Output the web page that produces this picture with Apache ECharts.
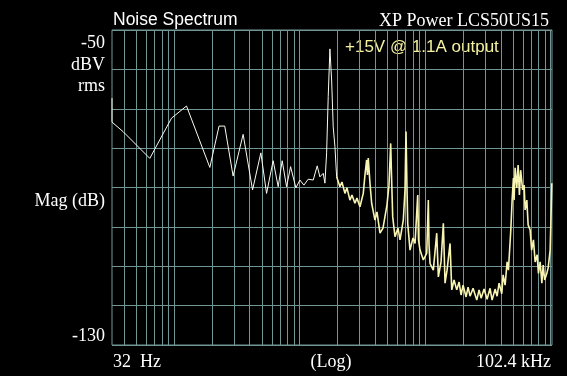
<!DOCTYPE html>
<html>
<head>
<meta charset="utf-8">
<script src="https://cdn.jsdelivr.net/npm/echarts@6/dist/echarts.min.js"></script>
<style>
html,body{margin:0;padding:0;background:#000;}
#c{width:567px;height:376px;}
</style>
</head>
<body>
<div id="c"></div>
<script>
// Frequencies (Hz) and magnitudes (dBV rms)
var freqs = [32, 32, 39.2, 64, 95.3, 125.5, 192.5, 228, 253, 295,
  354.6, 421.6, 491, 545, 615, 674.6, 725.9, 786.8, 846.8, 933.5,
  1005, 1081, 1170, 1283, 1380, 1450, 1541, 1590, 1640, 1689,
  1742, 1798, 1851, 1910, 1971, 2094, 2172, 2295, 2381, 2516,
  2610, 2757, 2861, 3023, 3212, 3314, 3418, 3469, 3521, 3632,
  3747, 3981, 4131, 4365, 4612, 4963, 5149, 5313, 5392, 5511,
  5749, 6075, 6303, 6695, 6908, 7036, 7167, 7260, 7572, 8000,
  8300, 8722, 8852, 9098, 9667, 10290, 10596, 10733, 10932, 11613,
  12361, 12732, 13377, 13955, 14397, 14937, 15782, 16281, 16986, 17849,
  18623, 19318, 20041, 21178, 21968, 22781, 24070, 25766, 26880, 27888,
  29466, 31126, 32891, 34117, 36063, 37408, 38796, 40770, 41750, 43322,
  44948, 46046, 48100, 49270, 50463, 51108, 52058, 53713, 55003, 56335,
  57595, 59745, 61420, 62560, 64537, 66100, 68570, 70480, 72860, 75160,
  77970, 79850, 82380, 85000, 87070, 89510, 93180, 95430, 98980, 102140];
var mags = [-67.3, -73.4, -75.8, -82.6, -72.4, -69.3, -84.9, -74.4, -74.4, -87.1,
  -76.5, -90.6, -81.2, -91.5, -83.2, -89.8, -83.2, -89.8, -84.7, -90.1,
  -88.1, -89.4, -87.9, -88.1, -84.5, -87.3, -86.4, -88.9, -81.2, -66.9,
  -54.8, -62.7, -74.6, -79.6, -87.3, -89.8, -88.6, -91.5, -90.1, -93.2,
  -91.9, -94.0, -92.7, -94.9, -91.5, -86.8, -83.0, -86.8, -82.5, -88.9,
  -94.0, -98.3, -96.2, -101.6, -100.3, -94.4, -89.4, -78.8, -86.8, -97.4,
  -102.5, -100.3, -103.3, -98.3, -90.6, -75.8, -90.6, -99.1, -105.9, -102.8,
  -104.2, -91.9, -103.3, -105.9, -108.4, -106.7, -93.2, -104.6, -109.3, -111.0,
  -101.6, -112.7, -108.9, -99.1, -114.3, -111.0, -104.2, -116.0, -113.5, -116.0,
  -114.0, -117.3, -114.8, -117.8, -115.3, -117.6, -115.6, -118.6, -116.0, -118.1,
  -115.8, -118.4, -115.6, -118.6, -115.8, -117.6, -114.3, -117.0, -112.2, -114.8,
  -108.9, -111.0, -100.8, -93.2, -87.6, -93.2, -85.0, -90.1, -84.3, -91.9,
  -85.6, -90.6, -89.4, -95.7, -93.2, -99.5, -100.8, -105.9, -103.3, -108.9,
  -107.1, -111.8, -108.9, -114.3, -109.7, -113.5, -111.8, -110.4, -105.9, -88.9];

// Index where the trace switches from sparse (low-frequency) to dense (high-frequency) bins
var denseStart = 34;

// Log-decade grid frequencies (vertical lines)
var gridFreqs = [40, 50, 60, 70, 80, 90, 100, 200, 300, 400, 500, 600, 700, 800, 900,
  1000, 2000, 3000, 4000, 5000, 6000, 7000, 8000, 9000,
  10000, 20000, 30000, 40000, 50000, 60000, 70000, 80000, 90000, 100000];

var xMin = 32, xMax = 102400;
var yMin = -130, yMax = -50, yStep = 10;

var title = 'Noise Spectrum';
var device = 'XP Power LCS50US15';
var note = '+15V @ 1.1A output';
var leftLabels = ['-50', 'dBV', 'rms', 'Mag (dB)', '-130'];
var bottomLabels = ['32  Hz', '(Log)', '102.4 kHz'];

var gridColor = '#729696';
var serif = '"Liberation Serif", "Times New Roman", serif';
var sans = '"Liberation Sans", Arial, sans-serif';

var chart = echarts.init(document.getElementById('c'), null, {renderer: 'canvas'});
var data = freqs.map(function (f, i) { return [f, mags[i]]; });

function txt(x, y, s, font, align, fill) {
  return {type: 'text', x: x, y: y, silent: true,
    style: {text: s, font: font, fill: fill || '#fff', align: align, verticalAlign: 'middle'}};
}

chart.setOption({
  backgroundColor: '#000',
  animation: false,
  grid: {left: 112, top: 30, right: 15, bottom: 31, show: true,
    borderColor: gridColor, borderWidth: 1, backgroundColor: 'transparent'},
  xAxis: {type: 'log', logBase: 10, min: xMin, max: xMax,
    axisLine: {show: false}, axisTick: {show: false}, axisLabel: {show: false},
    splitLine: {show: false}},
  yAxis: {type: 'value', min: yMin, max: yMax, interval: yStep,
    axisLine: {show: false}, axisTick: {show: false}, axisLabel: {show: false},
    splitLine: {show: true, lineStyle: {color: gridColor, width: 1}}},
  series: [{
    type: 'line', data: data.slice(0, denseStart + 1), showSymbol: false, symbol: 'none',
    lineStyle: {color: '#fbfbf0', width: 1}, z: 5,
    markLine: {silent: true, symbol: 'none', label: {show: false},
      lineStyle: {color: gridColor, type: 'solid', width: 1},
      emphasis: {disabled: true},
      data: gridFreqs.map(function (v) { return {xAxis: v}; }), z: 1}
  }, {
    type: 'line', data: data.slice(denseStart), showSymbol: false, symbol: 'none',
    lineStyle: {color: '#f8f4b2', width: 1.6}, z: 6
  }],
  graphic: [
    txt(113, 20, title, '17.5px ' + sans, 'left'),
    txt(549, 21, device, '18px ' + serif, 'right'),
    txt(345, 47, note, '17px ' + sans, 'left', '#f4f2a2'),
    txt(105, 43, leftLabels[0], '18px ' + serif, 'right'),
    txt(105, 65, leftLabels[1], '18px ' + serif, 'right'),
    txt(105, 86, leftLabels[2], '18px ' + serif, 'right'),
    txt(105, 201, leftLabels[3], '18px ' + serif, 'right'),
    txt(105, 336, leftLabels[4], '18px ' + serif, 'right'),
    txt(113, 362, bottomLabels[0], '18px ' + serif, 'left'),
    txt(331, 362, bottomLabels[1], '18px ' + serif, 'center'),
    txt(551, 362, bottomLabels[2], '18px ' + serif, 'right')
  ]
});
</script>
</body>
</html>
